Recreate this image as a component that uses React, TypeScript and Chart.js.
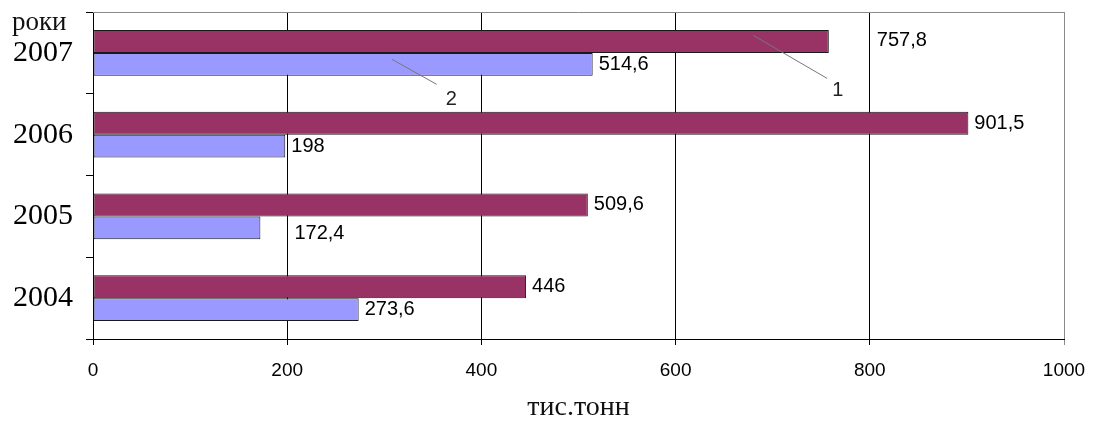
import React, { useEffect, useRef } from "react";
import { Chart, registerables } from "chart.js";

Chart.register(...registerables);

const years = ["2007", "2006", "2005", "2004"];
const series1 = [757.8, 901.5, 509.6, 446];
const series2 = [514.6, 198, 172.4, 273.6];
const xTicks = [0, 200, 400, 600, 800, 1000];
const yAxisTitle = "роки";
const xAxisTitle = "тис.тонн";

const fmt = (v: number) => String(v).replace(".", ",");

const SANS = "'Liberation Sans', Arial, sans-serif";
const SERIF = "'Liberation Serif', 'Times New Roman', serif";

const decorPlugin = {
  id: "decor",
  afterDatasetsDraw(chart: any) {
    const { ctx, chartArea } = chart;
    const xs = chart.scales.x;
    ctx.save();
    // top border
    ctx.strokeStyle = "#8a8a8a";
    ctx.lineWidth = 1;
    ctx.beginPath();
    ctx.moveTo(chartArea.left, chartArea.top + 0.5);
    ctx.lineTo(chartArea.right, chartArea.top + 0.5);
    ctx.stroke();

    // value labels
    ctx.fillStyle = "#000";
    ctx.font = `20px ${SANS}`;
    ctx.textAlign = "left";
    ctx.textBaseline = "middle";
    const shift: Record<string, [number, number]> = { "0-0": [42, -1], "1-2": [28, 6] };
    chart.data.datasets.forEach((ds: any, di: number) => {
      const meta = chart.getDatasetMeta(di);
      meta.data.forEach((bar: any, i: number) => {
        const s = shift[`${di}-${i}`] || [0, 0];
        ctx.fillText(fmt(ds.data[i]), bar.x + 6 + s[0], bar.y + s[1]);
      });
    });

    // leader lines
    const b1 = chart.getDatasetMeta(0).data[0];
    const b2 = chart.getDatasetMeta(1).data[0];
    ctx.strokeStyle = "#777";
    ctx.lineWidth = 1;
    ctx.beginPath();
    ctx.moveTo(xs.getPixelForValue(680), b1.y - 6);
    ctx.lineTo(xs.getPixelForValue(756), b1.y + 37);
    ctx.moveTo(xs.getPixelForValue(308), b2.y - 5);
    ctx.lineTo(xs.getPixelForValue(354), b2.y + 20);
    ctx.stroke();
    ctx.fillStyle = "#222";
    ctx.textAlign = "center";
    ctx.fillText("1", xs.getPixelForValue(767), b1.y + 49);
    ctx.fillText("2", xs.getPixelForValue(369), b2.y + 35);

    // axis titles
    ctx.fillStyle = "#111";
    ctx.textBaseline = "alphabetic";
    ctx.textAlign = "left";
    ctx.font = `27px ${SERIF}`;
    ctx.fillText(yAxisTitle, 12, 30);
    ctx.textAlign = "center";
    ctx.font = `28px ${SERIF}`;
    ctx.fillText(xAxisTitle, (chartArea.left + chartArea.right) / 2, 415);
    ctx.restore();
  },
};

export default function App() {
  const ref = useRef<HTMLCanvasElement>(null);
  useEffect(() => {
    if (!ref.current) return;
    const chart = new Chart(ref.current, {
      type: "bar",
      data: {
        labels: years,
        datasets: [
          {
            label: "1",
            data: series1,
            backgroundColor: "#993366",
            borderColor: "#1a1a1a",
            borderWidth: 1,
            borderSkipped: false,
            categoryPercentage: 0.5625,
            barPercentage: 1,
          },
          {
            label: "2",
            data: series2,
            backgroundColor: "#9999ff",
            borderColor: "#1a1a1a",
            borderWidth: 1,
            borderSkipped: false,
            categoryPercentage: 0.5625,
            barPercentage: 1,
          },
        ],
      },
      options: {
        indexAxis: "y",
        animation: false,
        responsive: false,
        layout: { padding: { top: 12, right: 34, left: 0, bottom: 0 } },
        plugins: { legend: { display: false }, tooltip: { enabled: false }, title: { display: false } },
        scales: {
          x: {
            type: "linear",
            min: 0,
            max: 1000,
            afterBuildTicks: (scale: any) => {
              scale.ticks = xTicks.map((v) => ({ value: v }));
            },
            afterFit: (scale: any) => {
              scale.height = 82;
              scale.paddingLeft = 0;
              scale.paddingRight = 0;
            },
            ticks: {
              color: "#000",
              font: { family: SANS, size: 19 },
              padding: 14,
              maxRotation: 0,
              callback: (v: any) => String(v),
            },
            grid: {
              color: (c: any) => (c.tick && c.tick.value === 1000 ? "#8a8a8a" : "#000"),
              lineWidth: 1,
              tickLength: 6,
            },
            border: { display: true, color: "#000", width: 1 },
          },
          y: {
            type: "category",
            afterFit: (scale: any) => {
              scale.width = 93;
              scale.paddingTop = 0;
              scale.paddingBottom = 0;
            },
            ticks: {
              color: "#000",
              font: { family: SERIF, size: 30 },
              padding: 13,
            },
            grid: {
              offset: true,
              drawOnChartArea: false,
              color: "#000",
              tickLength: 7,
            },
            border: { display: true, color: "#000", width: 1 },
          },
        },
      },
      plugins: [decorPlugin],
    } as any);
    return () => chart.destroy();
  }, []);
  return (
    <div style={{ position: "fixed", left: 0, top: 0, width: 1098, height: 421, background: "#fff" }}>
      <canvas ref={ref} width={1098} height={421} />
    </div>
  );
}
